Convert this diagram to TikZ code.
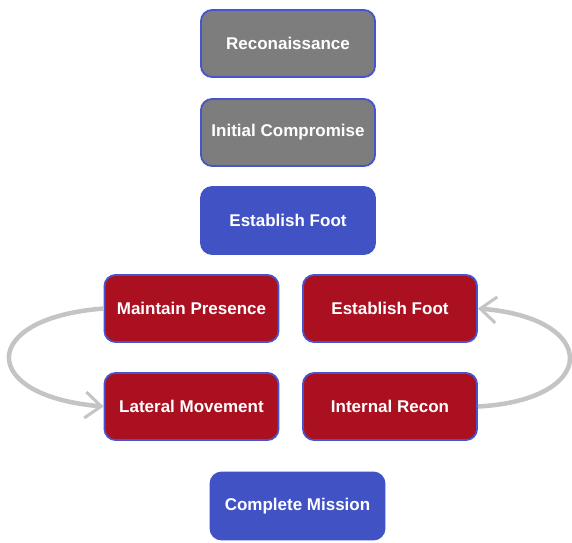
\documentclass[tikz,border=0pt]{standalone}
\usepackage{fontspec}
\setmainfont{Liberation Sans}
\usetikzlibrary{arrows.meta}
\definecolor{grayfill}{RGB}{125,125,125}
\definecolor{edgeblue}{RGB}{72,84,205}
\definecolor{redfill}{RGB}{170,16,32}
\definecolor{bluefill}{RGB}{65,82,197}
\definecolor{arrowgray}{RGB}{196,196,196}
\tikzset{
  box/.style={rectangle, rounded corners=11pt, minimum width=174pt, minimum height=67pt,
    line width=1.8pt, draw=edgeblue, text=white, font=\fontsize{17}{20}\selectfont\bfseries, inner sep=0pt},
  graybox/.style={box, fill=grayfill},
  redbox/.style={box, fill=redfill},
  bluebox/.style={box, fill=bluefill, draw=bluefill},
  loop/.style={draw=arrowgray, line width=4.5pt, -{Straight Barb[length=16pt,width=26pt,line width=3pt]}}
}
\begin{document}
\begin{tikzpicture}[x=1pt,y=-1pt]
\useasboundingbox (0,0) rectangle (572,542);
\fill[white] (0,0) rectangle (572,542);
\node[graybox] (recon) at (288,43.5) {Reconaissance};
\node[graybox] (init) at (288,132.5) {Initial Compromise};
\node[bluebox] (foot) at (288,220.5) {Establish Foot};
\node[redbox] (maint) at (191.5,308.5) {Maintain Presence};
\node[redbox] (foot2) at (390,308.5) {Establish Foot};
\node[redbox] (lat) at (191.5,406.5) {Lateral Movement};
\node[redbox] (recon2) at (390,406.5) {Internal Recon};
\node[bluebox] (done) at (297.5,506) {Complete Mission};
\draw[loop] (maint.west) .. controls (-22,318) and (-22,396) .. (lat.west);
\draw[loop] (recon2.east) .. controls (600,400) and (600,318) .. (foot2.east);
\end{tikzpicture}
\end{document}
